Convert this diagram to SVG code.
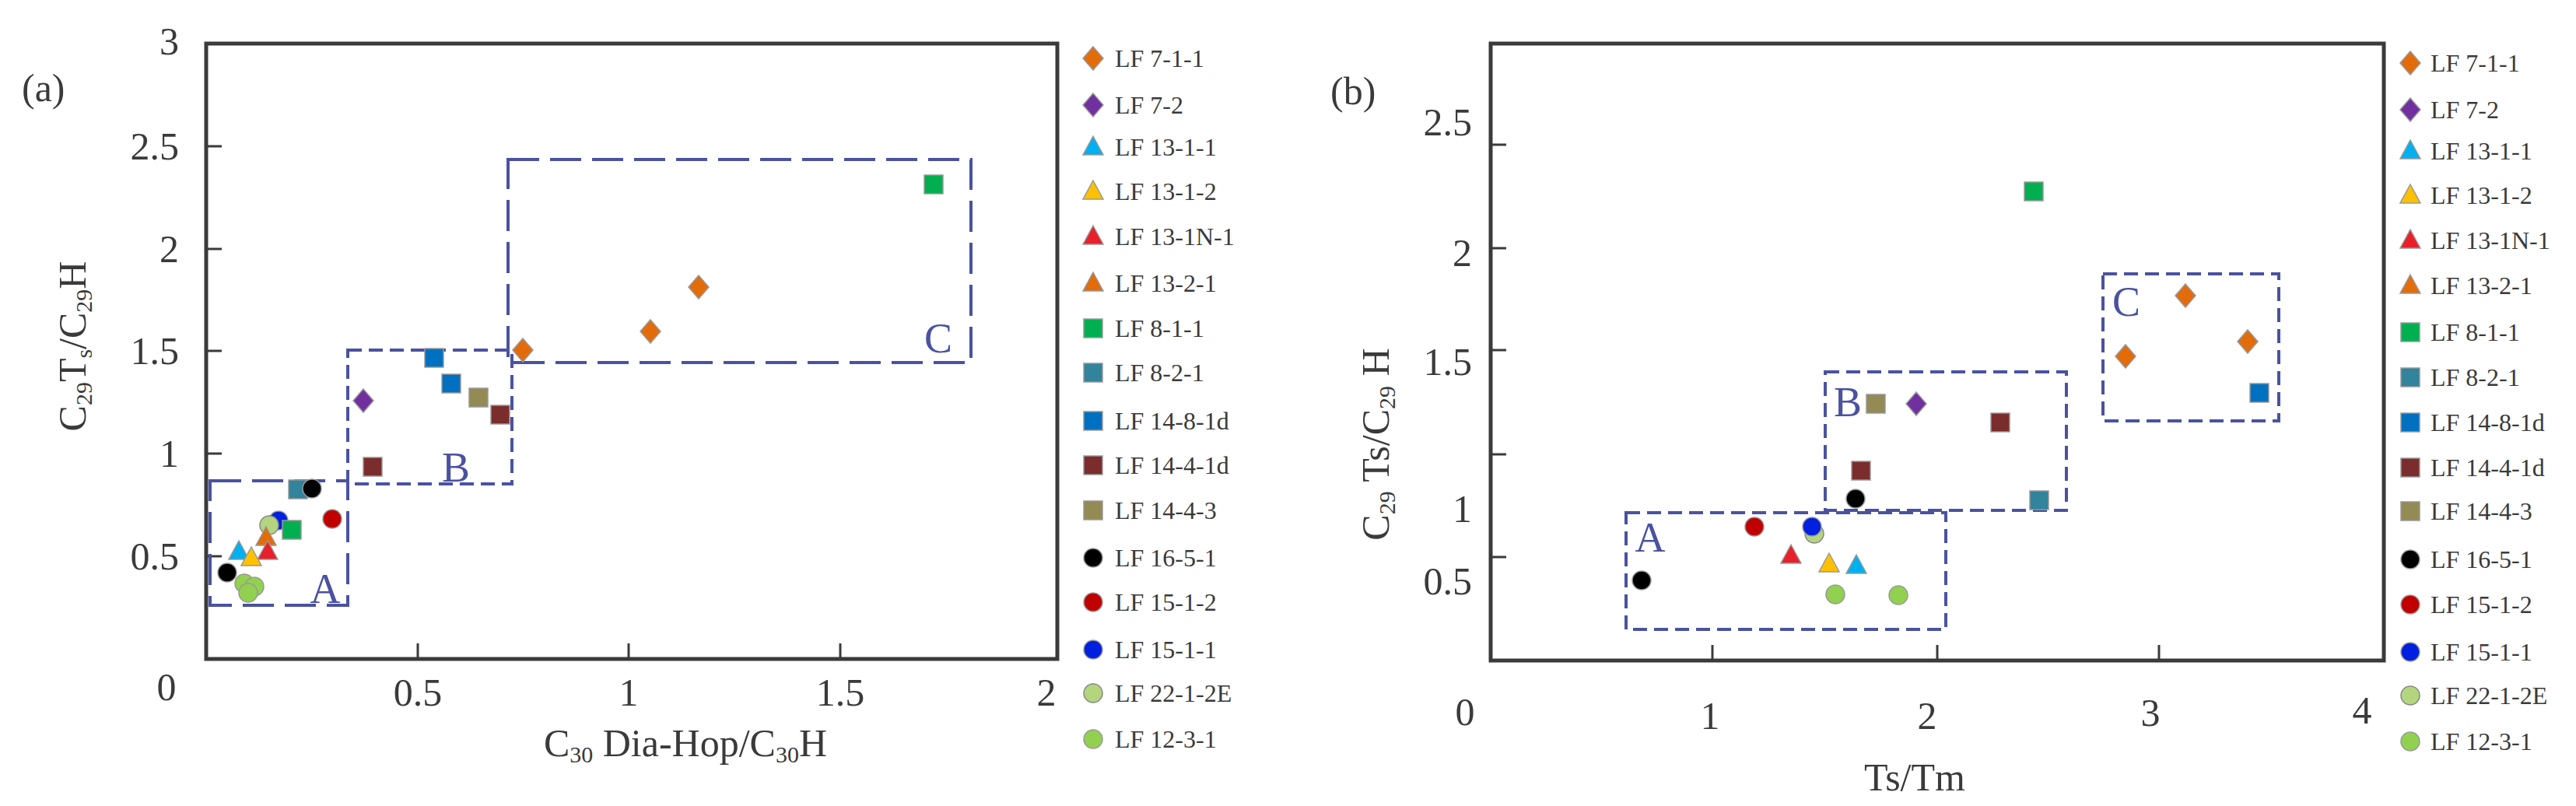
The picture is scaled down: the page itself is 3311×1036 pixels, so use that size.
<svg xmlns="http://www.w3.org/2000/svg" xmlns:xlink="http://www.w3.org/1999/xlink" width="3311" height="1036" viewBox="0 0 3311 1036">
<style>
text{font-family:"Liberation Serif","Times New Roman",serif;fill:#3a3a3a}
.ax{font-size:50px}
.lg{font-size:32px}
.frame{fill:none;stroke:#3a3a3a;stroke-width:5}
.tick{stroke:#3a3a3a;stroke-width:3}
.boxL{fill:none;stroke:#4a52a0;stroke-width:4;stroke-dasharray:40 14}
.boxS{fill:none;stroke:#4a52a0;stroke-width:4;stroke-dasharray:18 9}
.zl{font-size:54px;fill:#4a52a0}
</style>
<defs>
<path id="dOr" d="M0,-15 L13,0 L0,15 L-13,0Z" fill="#e36c0a" stroke="#999" stroke-width="1.5"/>
<path id="dPu" d="M0,-15 L13,0 L0,15 L-13,0Z" fill="#7030a0" stroke="#999" stroke-width="1.5"/>
<path id="tCy" d="M0,-14 L13,10 L-13,10Z" fill="#00b0f0" stroke="#999" stroke-width="1.5"/>
<path id="tYe" d="M0,-14 L13,10 L-13,10Z" fill="#ffc000" stroke="#999" stroke-width="1.5"/>
<path id="tRe" d="M0,-14 L13,10 L-13,10Z" fill="#e8202a" stroke="#999" stroke-width="1.5"/>
<path id="tOr" d="M0,-14 L13,10 L-13,10Z" fill="#e36c0a" stroke="#999" stroke-width="1.5"/>
<rect id="sGr" x="-12" y="-12" width="24" height="24" fill="#00b050" stroke="#999" stroke-width="1.5"/>
<rect id="sTe" x="-12" y="-12" width="24" height="24" fill="#31849b" stroke="#999" stroke-width="1.5"/>
<rect id="sBl" x="-12" y="-12" width="24" height="24" fill="#0070c0" stroke="#999" stroke-width="1.5"/>
<rect id="sDr" x="-12" y="-12" width="24" height="24" fill="#7b2c2c" stroke="#999" stroke-width="1.5"/>
<rect id="sOl" x="-12" y="-12" width="24" height="24" fill="#948a54" stroke="#999" stroke-width="1.5"/>
<circle id="cBk" r="12" fill="#000" stroke="#999" stroke-width="1.5"/>
<circle id="cRe" r="12" fill="#c00000" stroke="#999" stroke-width="1.5"/>
<circle id="cBl" r="12" fill="#0020e0" stroke="#999" stroke-width="1.5"/>
<circle id="cLg" r="12" fill="#b3d57e" stroke="#888" stroke-width="1.5"/>
<circle id="cGr" r="12" fill="#92d050" stroke="#999" stroke-width="1.5"/>
</defs>

<g id="plot-a">
<rect class="frame" x="265" y="56" width="1094" height="791"/>
<g class="tick">
<line x1="265" y1="715" x2="285" y2="715"/><line x1="265" y1="583" x2="285" y2="583"/><line x1="265" y1="451" x2="285" y2="451"/><line x1="265" y1="320" x2="285" y2="320"/><line x1="265" y1="188" x2="285" y2="188"/>
<line x1="537" y1="847" x2="537" y2="827"/><line x1="808" y1="847" x2="808" y2="827"/><line x1="1080" y1="847" x2="1080" y2="827"/>
</g>
<g class="ax" text-anchor="end">
<text x="230" y="70">3</text><text x="230" y="205">2.5</text><text x="230" y="337">2</text><text x="230" y="468">1.5</text><text x="230" y="600">1</text><text x="230" y="732">0.5</text>
</g>
<g class="ax" text-anchor="middle">
<text x="214" y="900">0</text><text x="537" y="907">0.5</text><text x="808" y="907">1</text><text x="1080" y="907">1.5</text><text x="1345" y="907">2</text>
</g>
<text class="ax" x="28" y="130">(a)</text>
<text class="ax" x="881" y="972" text-anchor="middle">C<tspan font-size="30" dy="8">30</tspan><tspan dy="-8"> Dia-Hop/C</tspan><tspan font-size="30" dy="8">30</tspan><tspan dy="-8">H</tspan></text>
<text class="ax" transform="translate(110,445) rotate(-90)" text-anchor="middle">C<tspan font-size="30" dy="8">29</tspan><tspan dy="-8">T</tspan><tspan font-size="30" dy="8">s</tspan><tspan dy="-8">/C</tspan><tspan font-size="30" dy="8">29</tspan><tspan dy="-8">H</tspan></text>
<rect class="boxL" x="270" y="618" width="177" height="160"/>
<rect class="boxS" x="447" y="450" width="211" height="172"/>
<rect class="boxL" x="653" y="205" width="595" height="261"/>
<text class="zl" x="418" y="775" text-anchor="middle">A</text>
<text class="zl" x="586" y="619" text-anchor="middle">B</text>
<text class="zl" x="1206" y="453" text-anchor="middle">C</text>
<use xlink:href="#dOr" x="672" y="450"/><use xlink:href="#dOr" x="836" y="426"/><use xlink:href="#dOr" x="898" y="369"/>
<use xlink:href="#sGr" x="1200" y="237"/>
<use xlink:href="#dPu" x="467" y="515"/>
<use xlink:href="#sBl" x="558" y="460"/><use xlink:href="#sBl" x="580" y="493"/>
<use xlink:href="#sOl" x="615" y="511"/>
<use xlink:href="#sDr" x="643" y="533"/><use xlink:href="#sDr" x="479" y="600"/>
<use xlink:href="#sTe" x="383" y="629"/>
<use xlink:href="#cBk" x="401" y="628"/><use xlink:href="#cBk" x="292" y="736"/>
<use xlink:href="#cRe" x="427" y="667"/>
<use xlink:href="#cBl" x="358" y="669"/>
<use xlink:href="#cLg" x="346" y="675"/>
<use xlink:href="#sGr" x="375" y="681"/>
<use xlink:href="#tOr" x="342" y="691"/>
<use xlink:href="#tRe" x="344" y="709"/>
<use xlink:href="#tCy" x="307" y="709"/>
<use xlink:href="#tYe" x="323" y="717"/>
<use xlink:href="#cGr" x="314" y="750"/><use xlink:href="#cGr" x="327" y="754"/><use xlink:href="#cGr" x="319" y="762"/>
</g>

<g id="legend-a" class="lg">
<use xlink:href="#dOr" x="1405" y="75"/><text x="1433" y="86">LF 7-1-1</text>
<use xlink:href="#dPu" x="1405" y="135"/><text x="1433" y="146">LF 7-2</text>
<use xlink:href="#tCy" x="1405" y="189"/><text x="1433" y="200">LF 13-1-1</text>
<use xlink:href="#tYe" x="1405" y="246"/><text x="1433" y="257">LF 13-1-2</text>
<use xlink:href="#tRe" x="1405" y="304"/><text x="1433" y="315">LF 13-1N-1</text>
<use xlink:href="#tOr" x="1405" y="364"/><text x="1433" y="375">LF 13-2-1</text>
<use xlink:href="#sGr" x="1405" y="422"/><text x="1433" y="433">LF 8-1-1</text>
<use xlink:href="#sTe" x="1405" y="479"/><text x="1433" y="490">LF 8-2-1</text>
<use xlink:href="#sBl" x="1405" y="541"/><text x="1433" y="552">LF 14-8-1d</text>
<use xlink:href="#sDr" x="1405" y="598"/><text x="1433" y="609">LF 14-4-1d</text>
<use xlink:href="#sOl" x="1405" y="656"/><text x="1433" y="667">LF 14-4-3</text>
<use xlink:href="#cBk" x="1405" y="717"/><text x="1433" y="728">LF 16-5-1</text>
<use xlink:href="#cRe" x="1405" y="774"/><text x="1433" y="785">LF 15-1-2</text>
<use xlink:href="#cBl" x="1405" y="835"/><text x="1433" y="846">LF 15-1-1</text>
<use xlink:href="#cLg" x="1405" y="891"/><text x="1433" y="902">LF 22-1-2E</text>
<use xlink:href="#cGr" x="1405" y="950"/><text x="1433" y="961">LF 12-3-1</text>
</g>

<g id="plot-b">
<rect class="frame" x="1916" y="56" width="1148" height="793"/>
<g class="tick">
<line x1="1916" y1="716" x2="1936" y2="716"/><line x1="1916" y1="584" x2="1936" y2="584"/><line x1="1916" y1="450" x2="1936" y2="450"/><line x1="1916" y1="319" x2="1936" y2="319"/><line x1="1916" y1="186" x2="1936" y2="186"/>
<line x1="2201" y1="849" x2="2201" y2="829"/><line x1="2490" y1="849" x2="2490" y2="829"/><line x1="2775" y1="849" x2="2775" y2="829"/>
</g>
<g class="ax" text-anchor="end">
<text x="1892" y="174">2.5</text><text x="1892" y="342">2</text><text x="1892" y="482">1.5</text><text x="1892" y="671">1</text><text x="1892" y="764">0.5</text>
</g>
<g class="ax" text-anchor="middle">
<text x="1883" y="932">0</text><text x="2198" y="937">1</text><text x="2477" y="937">2</text><text x="2764" y="933">3</text><text x="3036" y="930">4</text>
</g>
<text class="ax" x="1710" y="134">(b)</text>
<text class="ax" x="2461" y="1016" text-anchor="middle">Ts/Tm</text>
<text class="ax" transform="translate(1785,571) rotate(-90)" text-anchor="middle">C<tspan font-size="30" dy="8">29</tspan><tspan dy="-8"> Ts/C</tspan><tspan font-size="30" dy="8">29</tspan><tspan dy="-8"> H</tspan></text>
<rect class="boxS" x="2090" y="659" width="411" height="150"/>
<rect class="boxS" x="2346" y="478" width="310" height="178"/>
<rect class="boxS" x="2703" y="352" width="226" height="189"/>
<text class="zl" x="2121" y="709" text-anchor="middle">A</text>
<text class="zl" x="2375" y="535" text-anchor="middle">B</text>
<text class="zl" x="2733" y="406" text-anchor="middle">C</text>
<use xlink:href="#sGr" x="2614" y="246"/>
<use xlink:href="#dOr" x="2809" y="380"/><use xlink:href="#dOr" x="2889" y="439"/><use xlink:href="#dOr" x="2732" y="458"/>
<use xlink:href="#sBl" x="2904" y="505"/>
<use xlink:href="#sOl" x="2411" y="519"/>
<use xlink:href="#dPu" x="2463" y="519"/>
<use xlink:href="#sDr" x="2571" y="543"/><use xlink:href="#sDr" x="2392" y="605"/>
<use xlink:href="#cBk" x="2385" y="641"/><use xlink:href="#cBk" x="2110" y="746"/>
<use xlink:href="#sTe" x="2621" y="643"/>
<use xlink:href="#cRe" x="2255" y="677"/>
<use xlink:href="#cLg" x="2332" y="686"/>
<use xlink:href="#cBl" x="2329" y="677"/>
<use xlink:href="#tRe" x="2302" y="714"/>
<use xlink:href="#tYe" x="2351" y="725"/>
<use xlink:href="#tCy" x="2386" y="727"/>
<use xlink:href="#cGr" x="2359" y="764"/><use xlink:href="#cGr" x="2440" y="765"/>
</g>

<g id="legend-b" class="lg">
<use xlink:href="#dOr" x="3098" y="81"/><text x="3124" y="92">LF 7-1-1</text>
<use xlink:href="#dPu" x="3098" y="141"/><text x="3124" y="152">LF 7-2</text>
<use xlink:href="#tCy" x="3098" y="194"/><text x="3124" y="205">LF 13-1-1</text>
<use xlink:href="#tYe" x="3098" y="251"/><text x="3124" y="262">LF 13-1-2</text>
<use xlink:href="#tRe" x="3098" y="309"/><text x="3124" y="320">LF 13-1N-1</text>
<use xlink:href="#tOr" x="3098" y="367"/><text x="3124" y="378">LF 13-2-1</text>
<use xlink:href="#sGr" x="3098" y="427"/><text x="3124" y="438">LF 8-1-1</text>
<use xlink:href="#sTe" x="3098" y="485"/><text x="3124" y="496">LF 8-2-1</text>
<use xlink:href="#sBl" x="3098" y="543"/><text x="3124" y="554">LF 14-8-1d</text>
<use xlink:href="#sDr" x="3098" y="601"/><text x="3124" y="612">LF 14-4-1d</text>
<use xlink:href="#sOl" x="3098" y="657"/><text x="3124" y="668">LF 14-4-3</text>
<use xlink:href="#cBk" x="3098" y="719"/><text x="3124" y="730">LF 16-5-1</text>
<use xlink:href="#cRe" x="3098" y="777"/><text x="3124" y="788">LF 15-1-2</text>
<use xlink:href="#cBl" x="3098" y="838"/><text x="3124" y="849">LF 15-1-1</text>
<use xlink:href="#cLg" x="3098" y="894"/><text x="3124" y="905">LF 22-1-2E</text>
<use xlink:href="#cGr" x="3098" y="953"/><text x="3124" y="964">LF 12-3-1</text>
</g>
</svg>
